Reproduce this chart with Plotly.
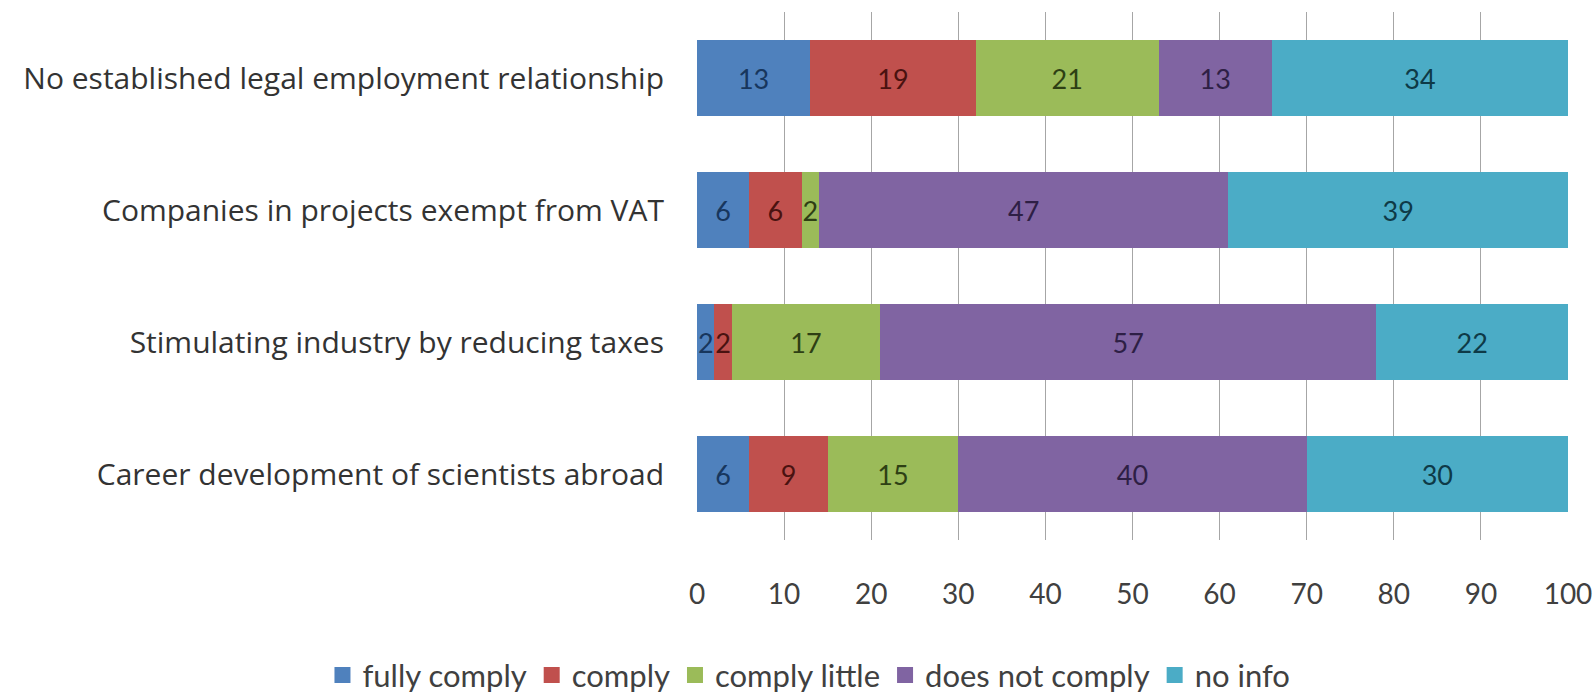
import plotly.graph_objects as go

categories = ["Career development of scientists abroad",
              "Stimulating industry by reducing taxes",
              "Companies in projects exempt from VAT",
              "No established legal employment relationship"]
series_names = ["fully comply", "comply", "comply little", "does not comply", "no info"]
fully_comply = [6, 2, 6, 13]
comply = [9, 2, 6, 19]
comply_little = [15, 17, 2, 21]
does_not_comply = [40, 57, 47, 13]
no_info = [30, 22, 39, 34]
x_ticks = [0, 10, 20, 30, 40, 50, 60, 70, 80, 90, 100]

values = [fully_comply, comply, comply_little, does_not_comply, no_info]
colors = ["#4F81BD", "#C0504D", "#9BBB59", "#8064A2", "#4BACC6"]
text_colors = ["#17365D", "#4A1210", "#2E3F14", "#2E1F45", "#0E3A47"]

FONT = "Lato, Open Sans, sans-serif"
LABEL_FONT = "Open Sans, Lato, sans-serif"
fig = go.Figure()
for name, vals, c, tc in zip(series_names, values, colors, text_colors):
    fig.add_trace(go.Bar(
        y=categories, x=vals, name=name, orientation="h",
        marker=dict(color=c, line=dict(width=0)),
        text=[str(v) for v in vals], textposition="inside",
        insidetextanchor="middle",
        textfont=dict(color=tc, size=27, family=FONT),
        cliponaxis=False, showlegend=False,
    ))
# legend entries with square swatches
for name, c in zip(series_names, colors):
    fig.add_trace(go.Scatter(
        x=[None], y=[None], mode="markers", name=name,
        marker=dict(symbol="square", size=18, color=c),
        showlegend=True,
    ))

fig.update_layout(
    barmode="stack", bargap=0.43,
    width=1596, height=695,
    margin=dict(l=697, r=28, t=12, b=155, autoexpand=False),
    paper_bgcolor="white", plot_bgcolor="white",
    font=dict(family=FONT, size=26, color="#404040"),
    uniformtext=dict(mode="show", minsize=27),
    legend=dict(orientation="h", xref="paper", yref="paper",
                x=-0.43, xanchor="left", y=-0.205, yanchor="top",
                font=dict(size=31, color="#404040", family=FONT), traceorder="normal",
                itemwidth=30, tracegroupgap=0, itemclick=False),
    xaxis=dict(range=[0, 100], tickvals=x_ticks, showgrid=True, gridcolor="#A6A6A6",
               gridwidth=1, zeroline=False, showline=False, ticks="",
               tickfont=dict(size=28, color="#404040"), ticklabelstandoff=35,
               fixedrange=True),
    yaxis=dict(showgrid=False, ticks="", tickfont=dict(size=30, color="#333333", family=LABEL_FONT),
               ticklabelstandoff=32, showline=False, range=[-0.5, 3.5]),
)

fig.write_html("out.html")
